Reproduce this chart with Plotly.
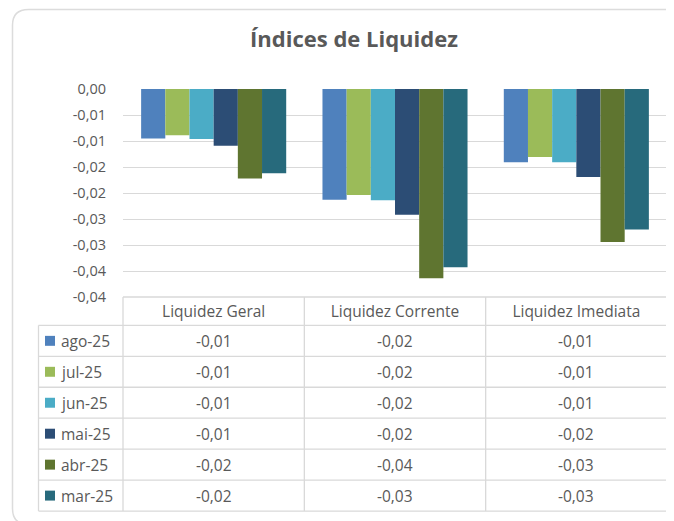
import plotly.graph_objects as go
from decimal import Decimal, ROUND_HALF_UP

categories = ["Liquidez Geral", "Liquidez Corrente", "Liquidez Imediata"]
series_names = ["ago-25", "jul-25", "jun-25", "mai-25", "abr-25", "mar-25"]
ago_25 = [-0.0095, -0.0213, -0.0141]
jul_25 = [-0.0089, -0.0204, -0.0131]
jun_25 = [-0.0096, -0.0214, -0.0141]
mai_25 = [-0.0109, -0.0242, -0.0169]
abr_25 = [-0.0172, -0.0364, -0.0294]
mar_25 = [-0.0162, -0.0343, -0.0270]
series_values = [ago_25, jul_25, jun_25, mai_25, abr_25, mar_25]
colors = ["#4F81BD", "#9BBB59", "#4BACC6", "#2C4D75", "#5F7530", "#276A7C"]
y_tickvals = [0, -0.005, -0.01, -0.015, -0.02, -0.025, -0.03, -0.035, -0.04]
y_ticktext = ["0,00", "-0,01", "-0,01", "-0,02", "-0,02", "-0,03", "-0,03", "-0,04", "-0,04"]
title_text = "Índices de Liquidez"

FONT = "Open Sans"
TXT = "#595959"
GRID = "#D9D9D9"

# the page body has an 8px margin; work in page pixels and shift by it
OFF = 8
W_PX, H_PX = 674 - OFF, 521 - OFF
L, R, T, B = 123 - OFF, 667 - OFF, 88.5 - OFF, 297.5 - OFF
PW, PH = R - L, B - T


def px(x):
    return (x - OFF - L) / PW


def py(y):
    return (B - (y - OFF)) / PH


def fmt(v):
    d = Decimal(str(v)).quantize(Decimal("0.01"), rounding=ROUND_HALF_UP)
    return str(d).replace(".", ",")


fig = go.Figure()
for name, vals, c in zip(series_names, series_values, colors):
    fig.add_trace(go.Bar(name=name, x=categories, y=vals, marker=dict(color=c, line=dict(width=0))))

shapes = []
annotations = []

# outer rounded border (page pixel coords)
x0, y0, x1, y1, r = 12.5, 8.5, 700, 526, 16
path = (
    f"M {px(x0+r)},{py(y0)} L {px(x1)},{py(y0)} L {px(x1)},{py(y1)} L {px(x0+r)},{py(y1)} "
    f"Q {px(x0)},{py(y1)} {px(x0)},{py(y1-r)} L {px(x0)},{py(y0+r)} "
    f"Q {px(x0)},{py(y0)} {px(x0+r)},{py(y0)} Z"
)
shapes.append(dict(type="path", xref="paper", yref="paper", path=path,
                   line=dict(color="#DCDCDC", width=1.5), layer="below"))

# data table (page pixel coords)
PL, PR, PB = 123, 667, 297.5
row_top = 326
row_h = 31.1
n_rows = len(series_names)
table_bottom = row_top + row_h * n_rows
label_left = 38.5
col_edges = [PL + (PR - PL) * j / len(categories) for j in range(len(categories) + 1)]

line_style = dict(color=GRID, width=1.3)
shapes.append(dict(type="line", xref="paper", yref="paper", x0=px(PL), x1=px(PR), y0=py(PB), y1=py(PB), line=line_style))
for i in range(n_rows + 1):
    yy = row_top + row_h * i
    shapes.append(dict(type="line", xref="paper", yref="paper", x0=px(label_left), x1=px(PR),
                       y0=py(yy), y1=py(yy), line=line_style))
shapes.append(dict(type="line", xref="paper", yref="paper", x0=px(label_left), x1=px(label_left),
                   y0=py(row_top), y1=py(table_bottom), line=line_style))
for xe in col_edges:
    shapes.append(dict(type="line", xref="paper", yref="paper", x0=px(xe), x1=px(xe),
                       y0=py(PB), y1=py(table_bottom), line=line_style))

for i, (name, vals, c) in enumerate(zip(series_names, series_values, colors)):
    yc = row_top + row_h * (i + 0.5)
    shapes.append(dict(type="rect", xref="paper", yref="paper", x0=px(45), x1=px(55),
                       y0=py(yc - 5), y1=py(yc + 5), fillcolor=c, line=dict(width=0)))
    annotations.append(dict(xref="paper", yref="paper", x=px(59), y=py(yc), text=name,
                            showarrow=False, xanchor="left", yanchor="middle",
                            font=dict(family=FONT, size=15.5, color=TXT)))
    for j, v in enumerate(vals):
        xc = (col_edges[j] + col_edges[j + 1]) / 2
        annotations.append(dict(xref="paper", yref="paper", x=px(xc), y=py(yc), text=fmt(v),
                                showarrow=False, xanchor="center", yanchor="middle",
                                font=dict(family=FONT, size=15.5, color=TXT)))

fig.update_layout(
    width=W_PX, height=H_PX,
    margin=dict(l=L, r=W_PX - R, t=T, b=H_PX - B, pad=0),
    paper_bgcolor="white", plot_bgcolor="white",
    barmode="group", bargap=0.2, bargroupgap=0,
    showlegend=False,
    title=dict(text=title_text, x=(354 - OFF) / W_PX, xanchor="center", xref="container",
               y=1 - (39 - OFF) / H_PX, yref="container", yanchor="middle",
               font=dict(family=FONT, size=22, color=TXT, weight="bold")),
    font=dict(family=FONT, color=TXT),
    shapes=shapes,
    annotations=annotations,
)
fig.update_xaxes(showgrid=False, showline=False, zeroline=False, ticks="",
                 tickfont=dict(family=FONT, size=15.5, color=TXT), ticklabelstandoff=3)
fig.update_yaxes(range=[-0.04, 0], tickvals=y_tickvals, ticktext=y_ticktext,
                 showgrid=True, gridcolor=GRID, gridwidth=1.3, zeroline=False, showline=False,
                 ticks="", tickfont=dict(family=FONT, size=14.5, color=TXT), ticklabelstandoff=16)

fig.write_html("out.html")
